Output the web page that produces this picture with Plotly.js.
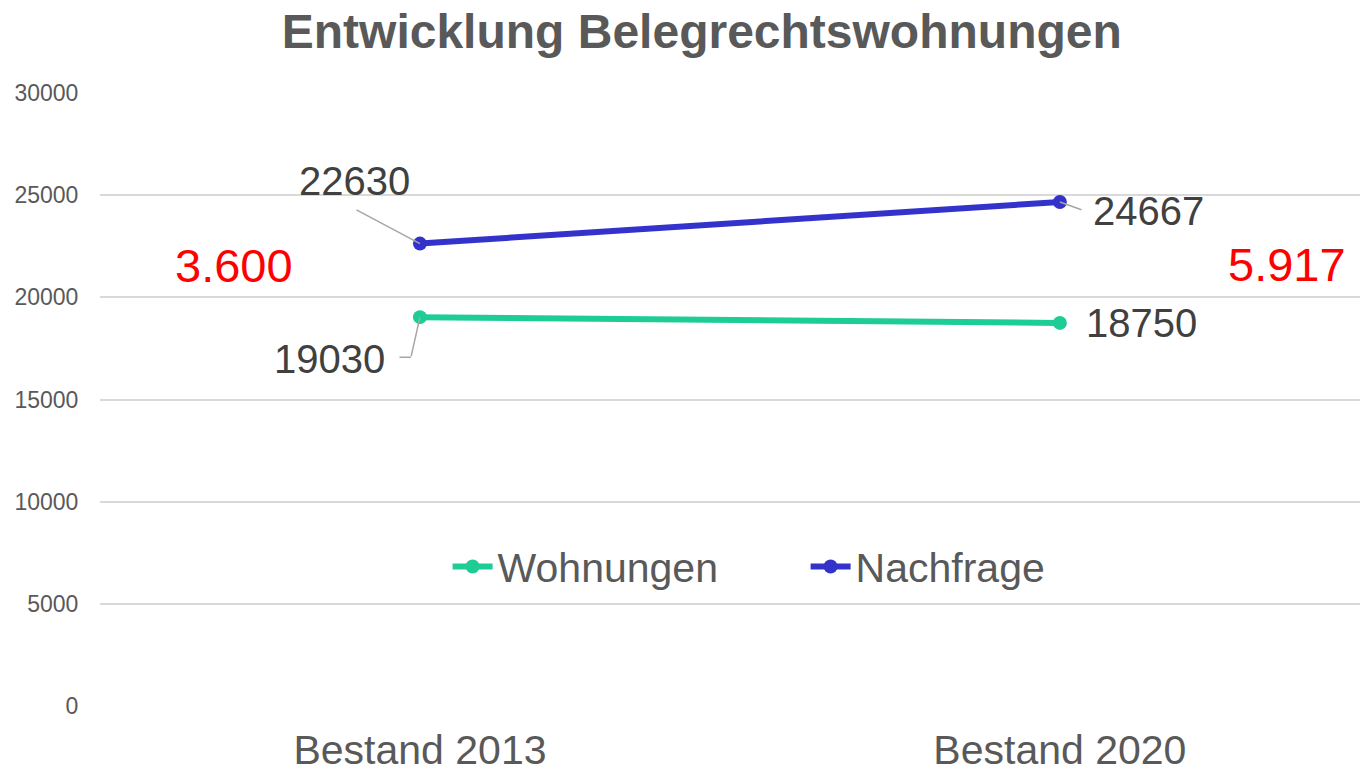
<!DOCTYPE html>
<html>
<head>
<meta charset="utf-8">
<script src="https://cdn.plot.ly/plotly-3.0.1.min.js"></script>
<style>html,body{margin:0;padding:0;background:#fff;}#chart{width:1360px;height:775px;}</style>
</head>
<body>
<div id="chart"></div>
<script>
const categories = ["Bestand 2013", "Bestand 2020"];
const wohnungen = [19030, 18750];
const nachfrage = [22630, 24667];
const gapLabels = ["3.600", "5.917"];
const yTicks = [0, 5000, 10000, 15000, 20000, 25000, 30000];

const FONT = "Liberation Sans, Arial, sans-serif";
const green = "#1ECC96";
const blue = "#3333CC";
const labelColor = "#404040";
const grey = "#595959";
const leader = "#a6a6a6";

const traces = [
  {x: categories, y: wohnungen, name: "Wohnungen", type: "scatter", mode: "lines+markers",
   line: {color: green, width: 6}, marker: {color: green, size: 14}},
  {x: categories, y: nachfrage, name: "Nachfrage", type: "scatter", mode: "lines+markers",
   line: {color: blue, width: 6}, marker: {color: blue, size: 14}}
];

const labelFont = {family: FONT, size: 40, color: labelColor};
const tiny = {family: FONT, size: 1, color: "rgba(0,0,0,0)"};
function leaderLine(x, y, ax, ay, xs, ys) {
  return {x: x, y: y, text: " ", showarrow: true, arrowhead: 0, arrowwidth: 1.5,
          arrowcolor: leader, ax: ax, ay: ay, xshift: xs || 0, yshift: ys || 0,
          font: tiny, borderpad: 0, standoff: 0};
}
const annotations = [
  // data labels
  {x: categories[0], y: nachfrage[0], text: String(nachfrage[0]), showarrow: false,
   xshift: -65, yshift: 63, font: labelFont},
  {x: categories[0], y: wohnungen[0], text: String(wohnungen[0]), showarrow: false,
   xshift: -90, yshift: -42, font: labelFont},
  {x: categories[1], y: nachfrage[1], text: String(nachfrage[1]), showarrow: false,
   xshift: 89, yshift: -9, font: labelFont},
  {x: categories[1], y: wohnungen[1], text: String(wohnungen[1]), showarrow: false,
   xshift: 82, font: labelFont},
  // leader lines
  leaderLine(categories[0], nachfrage[0], -64, -34),
  leaderLine(categories[0], wohnungen[0], -9, 40),
  leaderLine(categories[0], wohnungen[0], -12, 0, -9, -40),
  leaderLine(categories[1], nachfrage[1], 22, 8),
  // gap labels
  {x: -0.29, y: (wohnungen[0] + nachfrage[0]) / 2, text: gapLabels[0], showarrow: false, yshift: 15,
   font: {family: FONT, size: 47, color: "#FF0000"}},
  {x: 1.355, y: (wohnungen[1] + nachfrage[1]) / 2, text: gapLabels[1], showarrow: false, yshift: -2,
   font: {family: FONT, size: 47, color: "#FF0000"}}
];

const layout = {
  width: 1360, height: 775,
  margin: {l: 100, r: 0, t: 93, b: 69},
  paper_bgcolor: "#fff", plot_bgcolor: "#fff",
  title: {text: "<b>Entwicklung Belegrechtswohnungen</b>", x: 0.516, xanchor: "center", y: 0.96, yanchor: "middle",
          font: {family: FONT, size: 48, color: grey}},
  xaxis: {type: "category", range: [-0.5, 1.469], showgrid: false, zeroline: false, showline: false,
          ticks: "outside", ticklen: 8, tickcolor: "rgba(0,0,0,0)",
          tickfont: {family: FONT, size: 41, color: grey}, automargin: false},
  yaxis: {range: [0, 30000], tickvals: yTicks, ticktext: yTicks.map(String), showgrid: true,
          gridcolor: "#d9d9d9", gridwidth: 2, zeroline: false, showline: false,
          ticks: "outside", ticklen: 16, tickcolor: "rgba(0,0,0,0)",
          tickfont: {family: FONT, size: 23, color: grey}, automargin: false},
  showlegend: true,
  legend: {orientation: "h", x: 0.56, xanchor: "center", y: 0.227, yanchor: "middle",
           font: {family: FONT, size: 41, color: grey}, bgcolor: "rgba(0,0,0,0)",
           entrywidth: 303, itemwidth: 40},
  annotations: annotations
};

Plotly.newPlot("chart", traces, layout, {displayModeBar: false, staticPlot: true});
</script>
</body>
</html>
